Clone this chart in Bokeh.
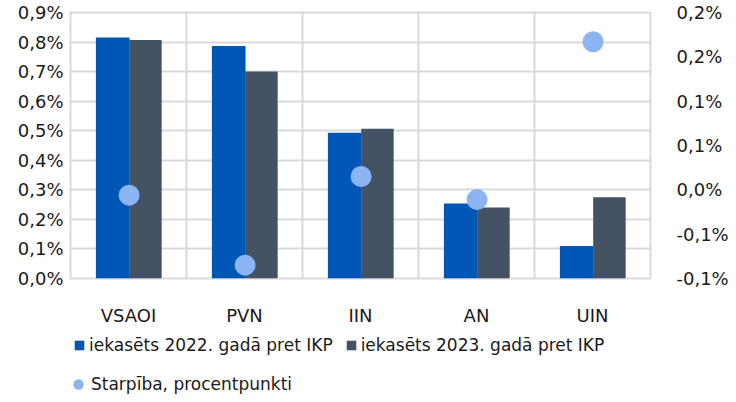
from bokeh.plotting import figure
from bokeh.layouts import column
from bokeh.models import (Range1d, LinearAxis, FixedTicker, Legend, LegendItem,
                          ColumnDataSource, CustomJSTickFormatter)
from bokeh.embed import file_html
from bokeh.resources import INLINE

categories = ["VSAOI", "PVN", "IIN", "AN", "UIN"]
collected_2022 = [0.815, 0.787, 0.493, 0.254, 0.110]
collected_2023 = [0.807, 0.700, 0.507, 0.240, 0.275]
difference_pp = [-0.006, -0.085, 0.015, -0.011, 0.167]
left_ticks = [0.0, 0.1, 0.2, 0.3, 0.4, 0.5, 0.6, 0.7, 0.8, 0.9]
right_ticks = [-0.10, -0.05, 0.0, 0.05, 0.10, 0.15, 0.20]

label_2022 = "iekasēts 2022. gadā pret IKP"
label_2023 = "iekasēts 2023. gadā pret IKP"
label_diff = "Starpība, procentpunkti"

BLUE = "#0056B4"
DARK = "#435363"
DOT = "#8DB4F2"
GRID = "#d9d9d9"
FONT = "DejaVu Sans"
FS = "18px"
TXT = "#1a1a1a"

xc = [i + 0.5 for i in range(len(categories))]
src = ColumnDataSource(dict(
    x22=[x - 0.136 for x in xc],
    x23=[x + 0.146 for x in xc],
    xd=[x + 0.005 for x in xc],
    v22=collected_2022, v23=collected_2023, d=difference_pp,
))

p = figure(frame_width=580, frame_height=266, output_backend="svg", toolbar_location=None,
           x_range=Range1d(0, 5), y_range=Range1d(0, 0.9),
           min_border_left=70, min_border_right=70, min_border_top=12,
           min_border_bottom=47)
p.extra_y_ranges = {"diff": Range1d(-0.10, 0.20)}

p.outline_line_color = GRID
p.outline_line_width = 2
p.background_fill_color = "white"
p.border_fill_color = "white"

r22 = p.vbar(x="x22", top="v22", width=0.29, bottom=0, source=src,
             fill_color=BLUE, line_color=None)
r23 = p.vbar(x="x23", top="v23", width=0.28, bottom=0, source=src,
             fill_color=DARK, line_color=None)
rd = p.scatter(x="xd", y="d", size=21, source=src, fill_color=DOT,
               line_color=None, y_range_name="diff")

# grids
p.xgrid.ticker = FixedTicker(ticks=[0, 1, 2, 3, 4, 5])
p.xgrid.grid_line_color = GRID
p.xgrid.grid_line_width = 2
p.ygrid.ticker = FixedTicker(ticks=left_ticks)
p.ygrid.grid_line_color = GRID
p.ygrid.grid_line_width = 2

pct_fmt = CustomJSTickFormatter(code="""
    const r = Math.sign(tick) * Math.round(Math.abs(tick) * 10 + 1e-9) / 10;
    return r.toFixed(1).replace('.', ',') + '%';
""")

xa = p.xaxis[0]
xa.ticker = FixedTicker(ticks=xc)
xa.major_label_overrides = {x: c for x, c in zip(xc, categories)}
ya = p.yaxis[0]
ya.ticker = FixedTicker(ticks=left_ticks)
ya.formatter = pct_fmt
ra = LinearAxis(y_range_name="diff", ticker=FixedTicker(ticks=right_ticks),
                formatter=pct_fmt)
p.add_layout(ra, "right")

for ax in [xa, ya, ra]:
    ax.axis_line_color = None
    ax.major_tick_line_color = None
    ax.minor_tick_line_color = None
    ax.major_tick_out = 0
    ax.major_tick_in = 0
    ax.major_label_text_font = FONT
    ax.major_label_text_font_size = FS
    ax.major_label_text_color = TXT
xa.major_label_standoff = 26
ya.major_label_standoff = 7
ra.major_label_standoff = 26

# legend strip below the chart (its proxy glyphs sit outside the visible range)
p2 = figure(width=720, height=69, output_backend="svg", toolbar_location=None,
            x_range=Range1d(0, 5), y_range=Range1d(5, 6),
            x_axis_type=None, y_axis_type=None, min_border=0)
p2.outline_line_color = None
p2.xgrid.visible = False
p2.ygrid.visible = False
l22 = p2.vbar(x="x22", top="v22", width=0.29, source=src, fill_color=BLUE, line_color=None)
l23 = p2.vbar(x="x23", top="v23", width=0.28, source=src, fill_color=DARK, line_color=None)
ld = p2.scatter(x="xd", y="d", size=10, source=src, fill_color=DOT, line_color=None)

leg1 = Legend(items=[LegendItem(label=label_2022, renderers=[l22]),
                     LegendItem(label=label_2023, renderers=[l23])],
              orientation="horizontal", location=(3, 42))
leg1.glyph_width = 12
leg1.glyph_height = 12
leg1.label_standoff = 4
leg1.spacing = 12
leg2 = Legend(items=[LegendItem(label=label_diff, renderers=[ld])],
              orientation="horizontal", location=(-5, 0))
leg2.glyph_width = 26
leg2.glyph_height = 26
leg2.label_standoff = 0
for lg in [leg1, leg2]:
    lg.label_text_font = FONT
    lg.label_text_font_size = "17px"
    lg.label_text_color = TXT
    lg.padding = 0
    lg.margin = 0
    lg.border_line_color = None
    lg.background_fill_alpha = 0
    lg.label_height = 20
    p2.add_layout(lg)

layout = column(p, p2, spacing=0)
open("out.html", "w").write(file_html(layout, INLINE))
